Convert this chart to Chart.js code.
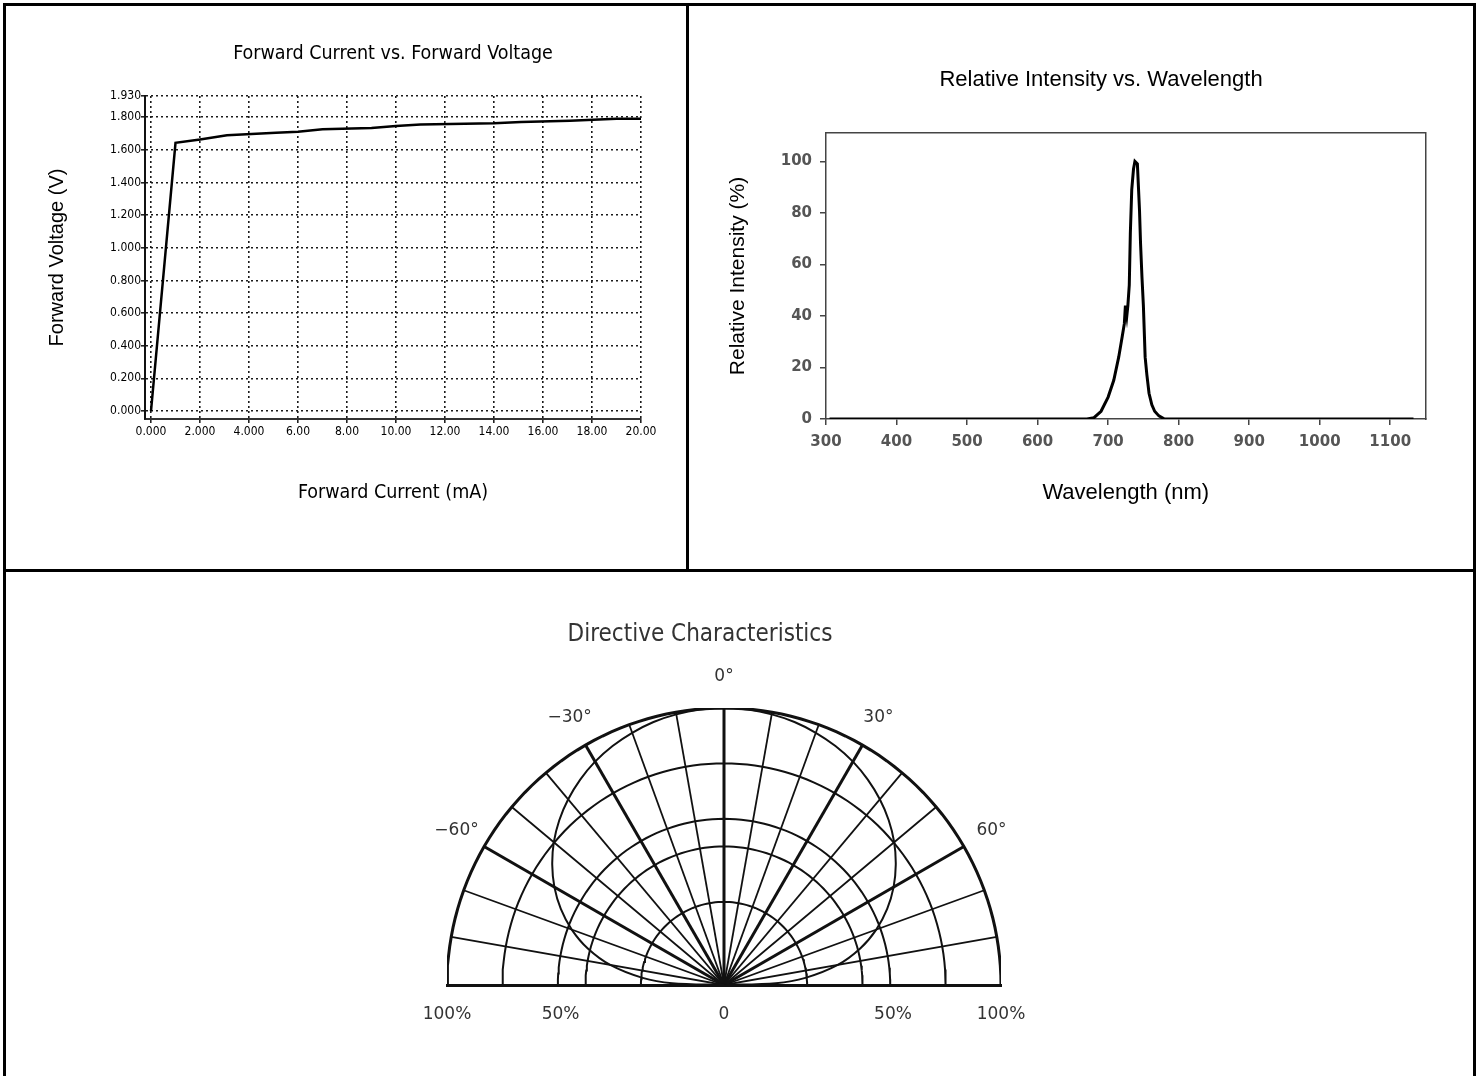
<!DOCTYPE html>
<html>
<head>
<meta charset="utf-8">
<title>LED characteristics</title>
<script src="https://cdn.jsdelivr.net/npm/chart.js@4.4.1/dist/chart.umd.min.js"></script>
<style>
html, body { margin:0; padding:0; background:#fff; overflow:hidden; width:1481px; height:1076px; }
.frame { position:absolute; left:3px; top:3px; width:1467px; height:1100px; border:3px solid #000; z-index:2; }
.vline { position:absolute; left:686px; top:3px; width:3px; height:569px; background:#000; z-index:2; }
.hline { position:absolute; left:3px; top:569px; width:1473px; height:3px; background:#000; z-index:2; }
canvas { position:absolute; z-index:1; }
#ivChart { left:6px; top:6px; }
#specChart { left:690px; top:6px; }
#dirChart { left:6px; top:574px; }
</style>
</head>
<body>
<canvas id="ivChart" width="680" height="563"></canvas>
<canvas id="specChart" width="822" height="563"></canvas>
<canvas id="dirChart" width="1468" height="500"></canvas>
<div class="frame"></div>
<div class="vline"></div>
<div class="hline"></div>
<script>
// forward current vs forward voltage
var currentMA = [0, 1.0, 2.0, 3.1, 4.1, 5.1, 6.0, 7.0, 9.0, 10.0, 11.0, 14.0, 15.1, 17.1, 19.0, 20.0];
var voltageV  = [0, 1.643, 1.663, 1.69, 1.697, 1.705, 1.711, 1.726, 1.734, 1.746, 1.756, 1.763, 1.771, 1.778, 1.79, 1.79];
var ivXTicks  = [0, 2, 4, 6, 8, 10, 12, 14, 16, 18, 20];
var ivXLabels = ['0.000','2.000','4.000','6.00','8.00','10.00','12.00','14.00','16.00','18.00','20.00'];
var ivYTicks  = [0, 0.2, 0.4, 0.6, 0.8, 1.0, 1.2, 1.4, 1.6, 1.8, 1.93];
var ivYLabels = ['0.000','0.200','0.400','0.600','0.800','1.000','1.200','1.400','1.600','1.800','1.930'];

// relative intensity vs wavelength
var wavelengthNm = [305, 670, 680, 690, 700, 708, 715, 720, 723, 724.5, 726.5, 728, 730, 731.5, 733.5, 736, 738, 741.5, 743, 744.5, 746, 748, 750, 752.5, 755, 758, 762, 766, 772, 780, 1133];
var intensityPct = [0, 0, 0.5, 3, 8.5, 15, 24, 32, 37, 44, 40, 44, 52, 72, 89, 97, 100, 99, 90, 81, 68, 55, 44, 24, 17, 10, 5.5, 3, 1.2, 0, 0];
var specXTicks = [300, 400, 500, 600, 700, 800, 900, 1000, 1100];
var specYTicks = [0, 20, 40, 60, 80, 100];

// directive characteristics (angle in degrees, relative intensity in %)
var patternAngles    = [-90, -88, -85, -80, -75, -70, -65, -60, -55, -50, -45, -40, -35, -30, -25, -20, -15, -10, -5, 0, 5, 10, 15, 20, 25, 30, 35, 40, 45, 50, 55, 60, 65, 70, 75, 80, 85, 88, 90];
var patternIntensity = [0, 18.7, 29.5, 41.7, 50.9, 58.5, 65, 70.7, 75.7, 80.2, 84.1, 87.5, 90.5, 93.1, 95.2, 96.9, 98.3, 99.2, 99.8, 100, 99.8, 99.2, 98.3, 96.9, 95.2, 93.1, 90.5, 87.5, 84.1, 80.2, 75.7, 70.7, 65, 58.5, 50.9, 41.7, 29.5, 18.7, 0];
var ringRadii    = [30, 50, 60, 80, 100];
var spokeAngles  = [-80, -70, -60, -50, -40, -30, -20, -10, 0, 10, 20, 30, 40, 50, 60, 70, 80];
var majorSpokes  = [-60, -30, 0, 30, 60];
var angleLabelPos  = [-60, -30, 0, 30, 60];
var angleLabelText = ['\u221260\u00b0', '\u221230\u00b0', '0\u00b0', '30\u00b0', '60\u00b0'];
var dirXTicks  = [-100, -59, 0, 61, 100];
var dirXLabels = ['100%', '50%', '0', '50%', '100%'];

var narrow = "'Liberation Sans Narrow', 'Arial Narrow', 'DejaVu Sans Condensed', sans-serif";
var sans = "'Liberation Sans', Arial, sans-serif";
Chart.defaults.font.family = sans;
Chart.defaults.color = '#000';
Chart.defaults.animation = false;

function pairs(xs, ys){
    var out = [];
    for (var i = 0; i < xs.length; i++) out.push({x: xs[i], y: ys[i]});
    return out;
}
function polar(angle, r){
    var a = angle * Math.PI / 180;
    return {x: r * Math.sin(a), y: r * Math.cos(a)};
}
function fixTicks(list){
    return function(axis){ axis.ticks = list.map(function(v){ return {value: v}; }); };
}

// ---------- chart 1 ----------
var dotted = {color: '#1a1a1a', lineWidth: 1.6, tickLength: 4, tickBorderDash: [], tickColor: '#222'};
new Chart(document.getElementById('ivChart'), {
    type: 'scatter',
    data: {
        datasets: [{
            data: pairs(currentMA, voltageV),
            showLine: true,
            borderColor: '#000',
            borderWidth: 2.5,
            pointRadius: 0,
            tension: 0
        }]
    },
    options: {
        responsive: false,
        layout: {padding: {left: 0, right: 45, top: 0, bottom: 0}},
        plugins: {
            legend: {display: false},
            tooltip: {enabled: false},
            title: {
                display: true,
                fullSize: false,
                text: 'Forward Current vs. Forward Voltage',
                font: {family: narrow, size: 19.5, weight: 'normal'},
                color: '#000',
                padding: {top: 36, bottom: 30.6}
            }
        },
        scales: {
            x: {
                type: 'linear',
                min: -0.245, max: 20,
                afterBuildTicks: fixTicks(ivXTicks),
                afterFit: function(s){ s.height = 150; },
                grid: dotted,
                border: {display: true, color: '#333', width: 2, dash: [2, 3]},
                ticks: {
                    autoSkip: false, maxRotation: 0, padding: 2,
                    font: {family: narrow, size: 12},
                    callback: function(v, i){ return ivXLabels[i]; }
                },
                title: {
                    display: true, text: 'Forward Current (mA)',
                    font: {family: narrow, size: 19.5},
                    padding: {top: 0, bottom: 64}
                }
            },
            y: {
                type: 'linear',
                min: -0.049, max: 1.93,
                afterBuildTicks: fixTicks(ivYTicks),
                afterFit: function(s){ s.width = 139; },
                grid: dotted,
                border: {display: true, color: '#111', width: 2, dash: [2, 3]},
                ticks: {
                    autoSkip: false, padding: 0,
                    font: {family: narrow, size: 12},
                    callback: function(v, i){ return ivYLabels[i]; }
                },
                title: {
                    display: true, text: 'Forward Voltage (V)',
                    font: {family: sans, size: 20},
                    padding: {top: 39, bottom: 0}
                }
            }
        }
    }
});

// ---------- chart 2 ----------
var frameBorder = {display: true, color: '#444', width: 1.5};
new Chart(document.getElementById('specChart'), {
    type: 'scatter',
    data: {
        datasets: [{
            data: pairs(wavelengthNm, intensityPct),
            showLine: true,
            borderColor: '#000',
            borderWidth: 3,
            pointRadius: 0,
            tension: 0
        }]
    },
    options: {
        responsive: false,
        layout: {padding: 0},
        plugins: {
            legend: {display: false},
            tooltip: {enabled: false},
            title: {
                display: true,
                text: 'Relative Intensity vs. Wavelength',
                font: {family: sans, size: 22, weight: 'normal'},
                color: '#000',
                padding: {top: 60.8, bottom: 39.8}
            }
        },
        scales: {
            x: {
                type: 'linear',
                min: 300, max: 1150,
                afterBuildTicks: fixTicks(specXTicks),
                afterFit: function(s){ s.height = 150; },
                grid: {drawOnChartArea: false, tickLength: 6, color: '#444', lineWidth: 1.5},
                border: frameBorder,
                ticks: {
                    autoSkip: false, maxRotation: 0, padding: 8, color: '#555',
                    font: {family: "'DejaVu Sans', sans-serif", size: 15, weight: 'bold'},
                    callback: function(v){ return String(v); }
                },
                title: {
                    display: true, text: 'Wavelength (nm)',
                    font: {family: sans, size: 22},
                    padding: {top: 0, bottom: 62.8}
                }
            },
            y: {
                type: 'linear',
                min: 0, max: 111,
                afterBuildTicks: fixTicks(specYTicks),
                afterFit: function(s){ s.width = 136; },
                grid: {drawOnChartArea: false, tickLength: 6, color: '#444', lineWidth: 1.5},
                border: frameBorder,
                ticks: {
                    autoSkip: false, padding: 8, color: '#555',
                    font: {family: "'DejaVu Sans', sans-serif", size: 15, weight: 'bold'},
                    callback: function(v){ return String(v); }
                },
                title: {
                    display: true, text: 'Relative Intensity (%)',
                    font: {family: sans, size: 21},
                    padding: {top: 35.4, bottom: 0}
                }
            },
            x2: {
                type: 'linear', position: 'top',
                afterFit: function(s){ s.height = 0; },
                grid: {display: false}, ticks: {display: false},
                border: frameBorder
            },
            y2: {
                type: 'linear', position: 'right',
                afterFit: function(s){ s.width = 86.5; },
                grid: {display: false}, ticks: {display: false},
                border: frameBorder
            }
        }
    }
});

// ---------- chart 3 ----------
var dirSets = [];
ringRadii.forEach(function(r){
    var pts = [];
    for (var a = -90; a <= 90; a += 2) pts.push(polar(a, r));
    dirSets.push({data: pts, showLine: true, borderColor: '#111', borderWidth: r === 100 ? 3 : 2, pointRadius: 0, tension: 0});
});
spokeAngles.forEach(function(a){
    var major = majorSpokes.indexOf(a) >= 0;
    dirSets.push({data: [polar(a, 0), polar(a, 100)], showLine: true, borderColor: '#111', borderWidth: major ? 3 : 1.8, pointRadius: 0});
});
dirSets.push({
    data: patternAngles.map(function(a, i){ return polar(a, patternIntensity[i]); }),
    showLine: true, borderColor: '#111', borderWidth: 2, pointRadius: 0, tension: 0.3
});

var angleLabels = {
    id: 'angleLabels',
    afterDraw: function(chart){
        var ctx = chart.ctx, sx = chart.scales.x, sy = chart.scales.y;
        ctx.save();
        ctx.font = "17px 'DejaVu Sans', sans-serif";
        ctx.fillStyle = '#333';
        ctx.textAlign = 'center';
        ctx.textBaseline = 'middle';
        for (var i = 0; i < angleLabelPos.length; i++) {
            var p = polar(angleLabelPos[i], 111.5);
            ctx.fillText(angleLabelText[i], sx.getPixelForValue(p.x), sy.getPixelForValue(p.y));
        }
        ctx.restore();
    }
};

new Chart(document.getElementById('dirChart'), {
    type: 'scatter',
    data: {datasets: dirSets},
    plugins: [angleLabels],
    options: {
        responsive: false,
        layout: {padding: {left: 0, right: 80, top: 0, bottom: 0}},
        plugins: {
            legend: {display: false},
            tooltip: {enabled: false},
            title: {
                display: true,
                text: 'Directive Characteristics',
                font: {family: narrow, size: 24, weight: 'normal'},
                color: '#333',
                padding: {top: 46, bottom: 59.2}
            }
        },
        scales: {
            x: {
                type: 'linear',
                min: -100, max: 100,
                afterBuildTicks: fixTicks(dirXTicks),
                afterFit: function(s){ s.height = 89; },
                grid: {display: false, drawTicks: false},
                border: {display: true, color: '#111', width: 3},
                ticks: {
                    autoSkip: false, maxRotation: 0, padding: 19.4, color: '#333',
                    font: {family: "'DejaVu Sans', sans-serif", size: 17},
                    callback: function(v, i){ return dirXLabels[i]; }
                }
            },
            y: {
                type: 'linear',
                min: 0, max: 100,
                afterFit: function(s){ s.width = 441; },
                grid: {display: false}, ticks: {display: false},
                border: {display: false}
            },
            y2: {
                type: 'linear', position: 'right',
                afterFit: function(s){ s.width = 393; },
                grid: {display: false}, ticks: {display: false},
                border: {display: false}
            }
        }
    }
});
</script>
</body>
</html>
